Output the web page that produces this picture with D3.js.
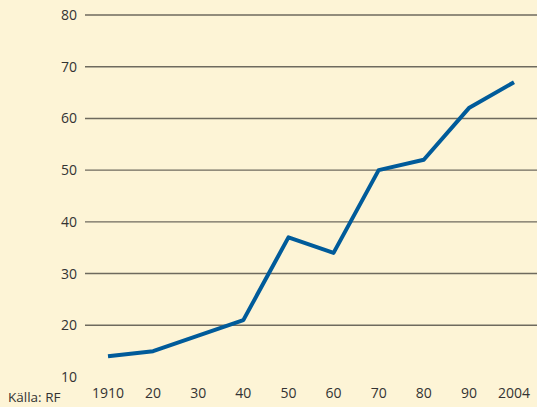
<!DOCTYPE html>
<html>
<head>
<meta charset="utf-8">
<script src="https://cdn.jsdelivr.net/npm/d3@7"></script>
<style>
  html, body { margin: 0; padding: 0; background: #fdf4d6; }
  svg { display: block; font-family: "Open Sans", sans-serif; }
</style>
</head>
<body>
<div id="chart"></div>
<script>
var years = ['1910', '20', '30', '40', '50', '60', '70', '80', '90', '2004'];
var values = [14, 15, 18, 21, 37, 34, 50, 52, 62, 67];
var yTicks = [10, 20, 30, 40, 50, 60, 70, 80];

var width = 537, height = 407;

var svg = d3.select('#chart')
  .append('svg')
    .attr('width', width)
    .attr('height', height);

svg.append('rect')
  .attr('width', width)
  .attr('height', height)
  .attr('fill', '#fdf4d6');

var x = d3.scalePoint()
  .domain(years)
  .range([108, 514]);

var y = d3.scaleLinear()
  .domain([10, 80])
  .range([377, 15]);

// gridlines (none at the bottom value)
svg.append('g')
  .selectAll('line')
  .data(yTicks.filter(function(d) { return d > 10; }))
  .enter()
    .append('line')
      .attr('x1', 85)
      .attr('x2', width)
      .attr('y1', function(d) { return y(d); })
      .attr('y2', function(d) { return y(d); })
      .attr('stroke', '#6e6a5e')
      .attr('stroke-width', 1.4);

// y labels
svg.append('g')
  .selectAll('text')
  .data(yTicks)
  .enter()
    .append('text')
      .attr('x', 77)
      .attr('y', function(d) { return y(d) + 5; })
      .attr('text-anchor', 'end')
      .attr('font-size', 14)
      .attr('fill', '#333')
      .text(function(d) { return d; });

// x labels
svg.append('g')
  .selectAll('text')
  .data(years)
  .enter()
    .append('text')
      .attr('x', function(d) { return x(d); })
      .attr('y', 398)
      .attr('text-anchor', 'middle')
      .attr('font-size', 14)
      .attr('fill', '#333')
      .text(function(d) { return d; });

var line = d3.line()
  .x(function(d, i) { return x(years[i]); })
  .y(function(d) { return y(d); });

svg.append('path')
  .datum(values)
  .attr('d', line)
  .attr('fill', 'none')
  .attr('stroke', '#005b9a')
  .attr('stroke-width', 4)
  .attr('stroke-linejoin', 'round');

svg.append('text')
  .attr('x', 8)
  .attr('y', 402)
  .attr('font-size', 13.5)
  .attr('fill', '#333')
  .text('Källa: RF');
</script>
</body>
</html>
